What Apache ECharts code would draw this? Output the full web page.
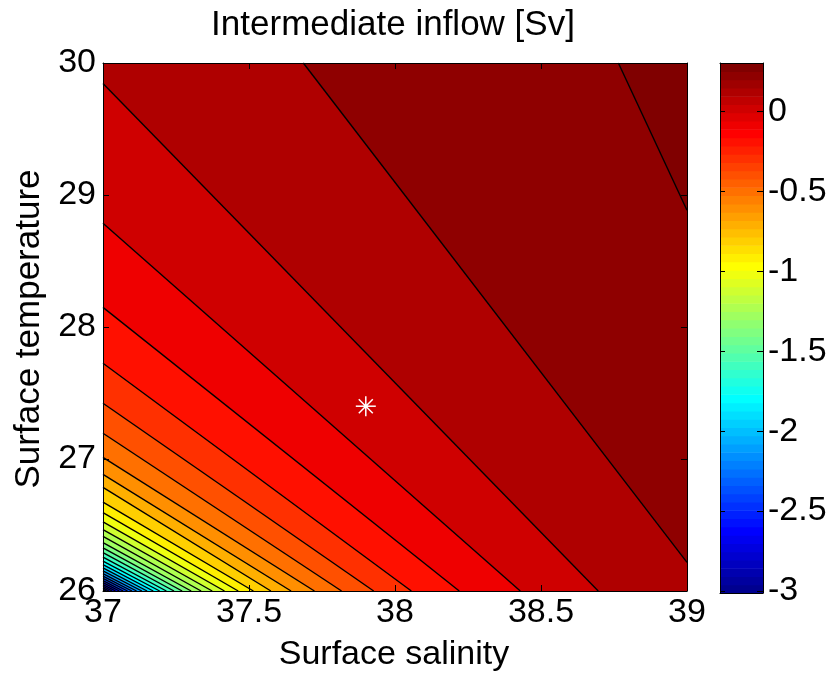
<!DOCTYPE html>
<html>
<head>
<meta charset="utf-8">
<title>Intermediate inflow</title>
<script src="https://cdn.jsdelivr.net/npm/echarts@6.0.0/dist/echarts.min.js"></script>
<style>
  body { margin: 0; background: #fff; }
  #tempChart { width: 831px; height: 676px; }
</style>
</head>
<body>
<div id="tempChart"></div>
<script>
// contour levels (ascending) and where each line meets the box
var levels = [-3.0, -2.9, -2.8, -2.7, -2.6, -2.5, -2.4, -2.3, -2.2, -2.1, -2.0, -1.9, -1.8, -1.7, -1.6, -1.5,
	-1.4, -1.3, -1.2, -1.1, -1.0, -0.9, -0.8, -0.7, -0.6, -0.5, -0.4, -0.3, -0.2, -0.1, 0.0, 0.1, 0.2, 0.3];
// upper-left end of each line (left or top edge)
var startX = [37, 37, 37, 37, 37, 37, 37, 37, 37, 37, 37, 37, 37, 37, 37, 37,
	37, 37, 37, 37, 37, 37, 37, 37, 37, 37, 37, 37, 37, 37, 37, 37, 37.686, 38.765];
var startY = [26, 26.011, 26.023, 26.036, 26.049, 26.063, 26.079, 26.095, 26.113, 26.132, 26.153, 26.175, 26.200, 26.227, 26.257, 26.290,
	26.326, 26.367, 26.413, 26.465, 26.524, 26.593, 26.673, 26.785, 26.884, 27.013, 27.195, 27.422, 27.725, 28.149, 28.786, 29.844, 30, 30];
// lower-right end of each line (bottom or right edge)
var endX = [37, 37.010, 37.020, 37.031, 37.043, 37.056, 37.069, 37.084, 37.099, 37.115, 37.133, 37.151, 37.172, 37.194, 37.217, 37.243,
	37.271, 37.302, 37.336, 37.374, 37.416, 37.463, 37.515, 37.575, 37.644, 37.724, 37.817, 37.927, 38.056, 38.220, 38.429, 38.696, 39, 39];
var endY = [26, 26, 26, 26, 26, 26, 26, 26, 26, 26, 26, 26, 26, 26, 26, 26,
	26, 26, 26, 26, 26, 26, 26, 26, 26, 26, 26, 26, 26, 26, 26, 26, 26.217, 28.884];

// white star
var markX = [37.9];
var markY = [27.4];

var xTicks = [37, 37.5, 38, 38.5, 39];
var yTicks = [26, 27, 28, 29, 30];
var cbTicks = [-3, -2.5, -2, -1.5, -1, -0.5, 0];

var xMin = 37, xMax = 39, yMin = 26, yMax = 30;
var cMin = -3.012, cMax = 0.302;
var FONT = 'Liberation Sans';

// matlab jet(64)
function jet(i) {
	function c(a) { return Math.round(Math.max(0, Math.min(1, a)) * 255); }
	var r = c(Math.min((i - 24) / 16, (72 - i) / 16));
	var g = c(Math.min((i - 8) / 16, (56 - i) / 16));
	var b = c(Math.min((i + 8) / 16, (40 - i) / 16));
	return 'rgb(' + r + ',' + g + ',' + b + ')';
}
function levelColor(v) {
	var i = Math.floor((v - cMin) / (cMax - cMin) * 64) + 1;
	return jet(Math.max(1, Math.min(64, i)));
}

var myChart = echarts.init(document.getElementById('tempChart'));

var lineData = levels.map(function (v, i) {
	return [startX[i], startY[i], endX[i], endY[i], v];
});
var cbData = [];
for (var k = 0; k < 64; k++) {
	cbData.push([0, cMin + k * (cMax - cMin) / 64, 1, cMin + (k + 1) * (cMax - cMin) / 64, k + 1]);
}

var axisLine = { show: true, onZero: false, lineStyle: { color: '#000', width: 1 } };
var labelStyle = { color: '#000', fontFamily: FONT, fontSize: 34 };

option = {
	animation: false,
	backgroundColor: '#fff',
	grid: [
		{ left: 103, top: 63, width: 584, height: 528 },
		{ left: 720, top: 63, width: 43, height: 530 }
	],
	xAxis: [
		{
			gridIndex: 0, type: 'value', position: 'bottom', min: xMin, max: xMax, interval: 0.5, z: 10,
			axisLine: axisLine, splitLine: { show: false },
			axisTick: { inside: true, length: 6, lineStyle: { color: '#000' } },
			axisLabel: Object.assign({ margin: 5, customValues: xTicks }, labelStyle)
		},
		{
			gridIndex: 0, type: 'value', position: 'top', min: xMin, max: xMax, interval: 0.5, z: 10,
			axisLine: axisLine, splitLine: { show: false },
			axisTick: { inside: true, length: 6, lineStyle: { color: '#000' } },
			axisLabel: { show: false }
		},
		{
			gridIndex: 1, type: 'value', position: 'bottom', min: 0, max: 1, z: 10,
			axisLine: axisLine, splitLine: { show: false }, axisTick: { show: false }, axisLabel: { show: false }
		},
		{
			gridIndex: 1, type: 'value', position: 'top', min: 0, max: 1, z: 10,
			axisLine: axisLine, splitLine: { show: false }, axisTick: { show: false }, axisLabel: { show: false }
		}
	],
	yAxis: [
		{
			gridIndex: 0, type: 'value', position: 'left', min: yMin, max: yMax, interval: 1, z: 10,
			axisLine: axisLine, splitLine: { show: false },
			axisTick: { inside: true, length: 6, lineStyle: { color: '#000' } },
			axisLabel: Object.assign({ margin: 7, customValues: yTicks }, labelStyle)
		},
		{
			gridIndex: 0, type: 'value', position: 'right', min: yMin, max: yMax, interval: 1, z: 10,
			axisLine: axisLine, splitLine: { show: false },
			axisTick: { inside: true, length: 6, lineStyle: { color: '#000' } },
			axisLabel: { show: false }
		},
		{
			gridIndex: 1, type: 'value', position: 'left', min: cMin, max: cMax, splitNumber: 7, z: 10,
			axisLine: axisLine, splitLine: { show: false },
			axisTick: { inside: true, length: 5, lineStyle: { color: '#000' },
				customValues: cbTicks },
			axisLabel: { show: false }
		},
		{
			gridIndex: 1, type: 'value', position: 'right', min: cMin, max: cMax, splitNumber: 7, z: 10,
			axisLine: axisLine, splitLine: { show: false },
			axisTick: { inside: true, length: 6, lineStyle: { color: '#000' },
				customValues: cbTicks },
			axisLabel: Object.assign({ margin: 5, customValues: cbTicks }, labelStyle)
		}
	],
	graphic: [
		{
			type: 'text', x: 393, y: 25,
			style: { text: 'Intermediate inflow [Sv]', fill: '#000', font: '35px "Liberation Sans"',
				textAlign: 'center', textVerticalAlign: 'middle', align: 'center', verticalAlign: 'middle' }
		},
		{
			type: 'text', x: 394, y: 655,
			style: { text: 'Surface salinity', fill: '#000', font: '34px "Liberation Sans"',
				textAlign: 'center', textVerticalAlign: 'middle', align: 'center', verticalAlign: 'middle' }
		},
		{
			type: 'text', x: 29, y: 329, rotation: Math.PI / 2,
			style: { text: 'Surface temperature', fill: '#000', font: '35px "Liberation Sans"',
				textAlign: 'center', textVerticalAlign: 'middle', align: 'center', verticalAlign: 'middle' }
		}
	],
	series: [
		{
			// filled bands: each level paints everything on its upper-right side
			name: 'fill', type: 'custom', xAxisIndex: 0, yAxisIndex: 0,
			encode: { x: [0, 2], y: [1, 3] },
			data: lineData,
			renderItem: function (params, api) {
				var i = params.dataIndex;
				var pts = [api.coord([startX[i], startY[i]]), api.coord([endX[i], endY[i]])];
				if (endY[i] === yMin) pts.push(api.coord([xMax, yMin]));
				pts.push(api.coord([xMax, yMax]));
				if (startX[i] === xMin) pts.push(api.coord([xMin, yMax]));
				return { type: 'polygon', shape: { points: pts }, style: { fill: levelColor(levels[i]) } };
			}
		},
		{
			name: 'contours', type: 'custom', xAxisIndex: 0, yAxisIndex: 0,
			encode: { x: [0, 2], y: [1, 3] },
			data: lineData,
			renderItem: function (params, api) {
				var i = params.dataIndex;
				var p0 = api.coord([startX[i], startY[i]]);
				var p1 = api.coord([endX[i], endY[i]]);
				return {
					type: 'line',
					shape: { x1: p0[0], y1: p0[1], x2: p1[0], y2: p1[1] },
					style: { stroke: '#000', lineWidth: 1.4 }
				};
			}
		},
		{
			name: 'star', type: 'custom', xAxisIndex: 0, yAxisIndex: 0,
			data: markX.map(function (x, i) { return [x, markY[i]]; }),
			renderItem: function (params, api) {
				var c = api.coord([api.value(0), api.value(1)]);
				var r = 10, d = 7;
				var segs = [[-r, 0, r, 0], [0, -r, 0, r], [-d, -d, d, d], [-d, d, d, -d]];
				var kids = segs.map(function (s) {
					return {
						type: 'line',
						shape: { x1: c[0] + s[0], y1: c[1] + s[1], x2: c[0] + s[2], y2: c[1] + s[3] },
						style: { stroke: '#fff', lineWidth: 1.5 }
					};
				});
				kids.push({ type: 'circle', shape: { cx: c[0], cy: c[1], r: 2 }, style: { fill: '#fff' } });
				return { type: 'group', children: kids };
			}
		},
		{
			// colorbar
			name: 'colorbar', type: 'custom', xAxisIndex: 2, yAxisIndex: 2,
			encode: { x: [0, 2], y: [1, 3] },
			data: cbData,
			renderItem: function (params, api) {
				var p0 = api.coord([api.value(0), api.value(1)]);
				var p1 = api.coord([api.value(2), api.value(3)]);
				return {
					type: 'rect',
					shape: { x: p0[0], y: p1[1], width: p1[0] - p0[0], height: p0[1] - p1[1] + 0.6 },
					style: { fill: jet(api.value(4)) }
				};
			}
		}
	]
};

myChart.setOption(option);
window.onresize = myChart.resize;
</script>
</body>
</html>
